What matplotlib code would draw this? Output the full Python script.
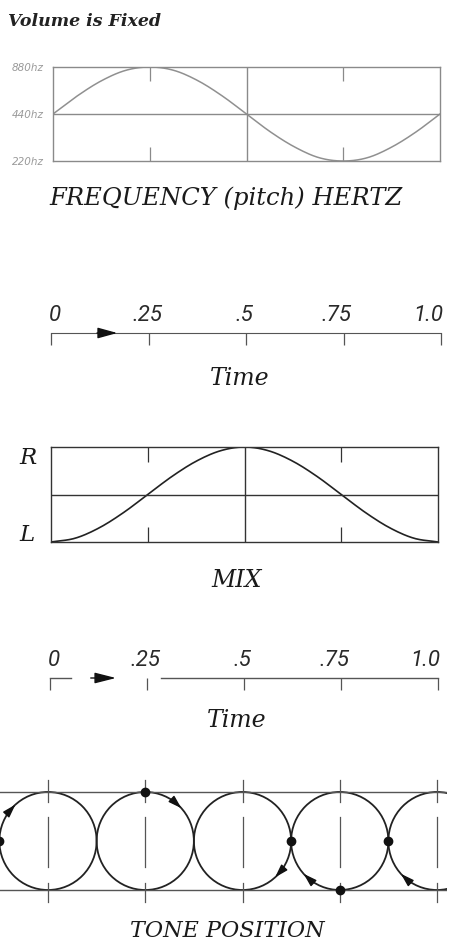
import numpy as np
import matplotlib
matplotlib.use("Agg")
import matplotlib.pyplot as plt
from matplotlib.patches import Ellipse

# values, one sample every 1/16 of the cycle
time_s = [0, .0625, .125, .1875, .25, .3125, .375, .4375, .5,
          .5625, .625, .6875, .75, .8125, .875, .9375, 1.0]
freq_hz = [440, 574, 718, 837, 880, 837, 718, 574, 440,
           337, 270, 231, 220, 231, 270, 337, 440]
mix_lr = [0, .04, .15, .31, .5, .69, .85, .96, 1.0,
          .96, .85, .69, .5, .31, .15, .04, 0]

freq_ticks = [220, 440, 880]
freq_labels = ["220hz", "440hz", "880hz"]
time_ticks = [0, .25, .5, .75, 1.0]
time_labels = ["0", ".25", ".5", ".75", "1.0"]
mix_labels = ["L", "R"]

# tone position: one circle per time tick, dot and arrow angle (deg) on each
circle_t = [0, .25, .5, .75, 1.0]
dot_angle = [180, 90, 0, 270, 180]
arrow_angle = [135, 45, -45, -135, -135]

W, H = 450, 943
SERIF = dict(family="DejaVu Serif", style="italic")
DIGITS = dict(family="Roboto", style="italic")


def smooth(x, y, n=12):
    # catmull-rom through the read samples, just to draw a smooth line
    x = np.asarray(x, float)
    y = np.asarray(y, float)
    xp = np.r_[2 * x[0] - x[1], x, 2 * x[-1] - x[-2]]
    yp = np.r_[2 * y[0] - y[1], y, 2 * y[-1] - y[-2]]
    s = np.linspace(0, 1, n, endpoint=False)
    xs, ys = [], []
    for i in range(1, len(xp) - 2):
        for arr, out in ((xp, xs), (yp, ys)):
            p0, p1, p2, p3 = arr[i - 1:i + 3]
            out.append(0.5 * (2 * p1 + (p2 - p0) * s
                              + (2 * p0 - 5 * p1 + 4 * p2 - p3) * s ** 2
                              + (3 * p1 - p0 - 3 * p2 + p3) * s ** 3))
    return np.r_[np.concatenate(xs), x[-1]], np.r_[np.concatenate(ys), y[-1]]


def box(x0, y0, x1, y1):
    return fig.add_axes([x0 / W, 1 - y1 / H, (x1 - x0) / W, (y1 - y0) / H])


def time_axis(ax, color):
    ax.set_xlim(0, 1)
    ax.set_ylim(0, 1)
    for side in ["left", "right", "bottom"]:
        ax.spines[side].set_visible(False)
    ax.spines["top"].set_color(color)
    ax.set_yticks([])
    ax.set_xticks(time_ticks)
    ax.tick_params(axis="x", top=True, bottom=False, direction="in",
                   length=8.5, width=0.9, color=color,
                   labelbottom=False, labeltop=False)
    ax.patch.set_visible(False)
    for t, lab, dx in zip(time_ticks, time_labels, [3, -1, -1.5, -5, -9.5]):
        ax.annotate(lab, xy=(t, 1), xycoords=("data", "axes fraction"),
                    xytext=(dx, 12.5), textcoords="offset points",
                    ha="center", va="center", fontsize=16, color="#2a2a2a",
                    **DIGITS)


fig = plt.figure(figsize=(W / 100, H / 100), dpi=100)

fig.text(8 / W, 1 - 22 / H, "Volume is Fixed", ha="left", va="center",
         fontsize=12.5, weight="bold", color="#222", **SERIF)

# frequency
ax = box(53, 67, 440, 161)
gray = "#8a8a8a"
ax.set_yscale("log", base=2)
xs, ys = smooth(time_s, np.log2(freq_hz))
ax.plot(xs, 2 ** ys, color="#909090", lw=1.1)
ax.set_xlim(0, 1)
ax.set_ylim(220, 880)
ax.axhline(440, color=gray, lw=1)
ax.axvline(0.5, color=gray, lw=1)
ax.set_xticks([.25, .75])
ax.tick_params(axis="x", top=True, bottom=True, direction="in", length=10,
               width=0.9, color=gray, labelbottom=False)
ax.yaxis.set_minor_locator(matplotlib.ticker.NullLocator())
ax.set_yticks(freq_ticks, freq_labels)
ax.tick_params(axis="y", length=0, pad=6.5, labelsize=7.5, labelcolor="#999")
for lab in ax.get_yticklabels():
    lab.set_fontstyle("italic")
for sp in ax.spines.values():
    sp.set_color(gray)
    sp.set_linewidth(1)
fig.text(226 / W, 1 - 205 / H, "FREQUENCY (pitch) HERTZ", ha="center",
         va="baseline", fontsize=17.5, color="#1a1a1a", **SERIF)

# first time line
ax = box(51, 333, 441, 348)
time_axis(ax, "#555")
ax.annotate("", xy=(0.17, 1), xytext=(0.118, 1),
            xycoords=("data", "axes fraction"),
            arrowprops=dict(arrowstyle="-|>,head_length=1.2,head_width=0.33",
                            color="#111", lw=1, shrinkA=0, shrinkB=0))
fig.text(240 / W, 1 - 385 / H, "Time", ha="center", va="baseline",
         fontsize=17, color="#1a1a1a", **SERIF)

# mix
ax = box(51, 447, 438, 542)
dark = "#333"
xs, ys = smooth(time_s, mix_lr)
ax.plot(xs, ys, color="#222", lw=1.2)
ax.set_xlim(0, 1)
ax.set_ylim(0, 1)
ax.axhline(0.5, color=dark, lw=1)
ax.axvline(0.5, color=dark, lw=1)
ax.set_xticks([.25, .75])
ax.tick_params(axis="x", top=True, bottom=True, direction="in", length=10.5,
               width=0.9, color=dark, labelbottom=False)
ax.set_yticks([])
for sp in ax.spines.values():
    sp.set_color(dark)
    sp.set_linewidth(1)
for y, lab, va, dy in zip([0, 1], mix_labels, ["baseline", "top"], [1, 0]):
    ax.annotate(lab, xy=(0, y), xycoords=("axes fraction", "data"),
                xytext=(-22.5, dy), textcoords="offset points", ha="left",
                va=va, fontsize=16.5, color="#1a1a1a", **SERIF)
fig.text(237 / W, 1 - 587 / H, "MIX", ha="center", va="baseline",
         fontsize=17, color="#1a1a1a", **SERIF)

# second time line, broken like the print
ax = box(50, 678, 438, 690)
time_axis(ax, "#555")
ax.spines["top"].set_visible(False)
for a, b in [(0, .055), (.285, 1.0)]:
    ax.plot([a, b], [1, 1], color="#555", lw=1, clip_on=False)
ax.annotate("", xy=(0.17, 1), xytext=(0.105, 1),
            xycoords=("data", "axes fraction"),
            arrowprops=dict(arrowstyle="-|>,head_length=1.3,head_width=0.33",
                            color="#111", lw=1, shrinkA=0, shrinkB=0))
fig.text(237 / W, 1 - 727 / H, "Time", ha="center", va="baseline",
         fontsize=17, color="#1a1a1a", **SERIF)

# tone position
ax = box(0, 770, 447, 912)
ax.set_xlim(-48 / 389, 399 / 389)
ax.set_ylim(-71 / 49, 71 / 49)
ax.axis("off")
ax.axhline(1, color="#555", lw=1)
ax.axhline(-1, color="#555", lw=1)
rx = 0.125
for t, da, aa in zip(circle_t, dot_angle, arrow_angle):
    ax.add_patch(Ellipse((t, 0), 2 * rx, 2, fill=False, color="#222", lw=1.3))
    for y0, y1 in [(0.8, 1.245), (-0.53, 0.49), (-1.245, -0.86)]:
        ax.plot([t, t], [y0, y1], color="#555", lw=0.9)
    a = np.radians(da)
    ax.plot(t + rx * np.cos(a), np.sin(a), "o", ms=6, color="#111")
    a0, a1 = np.radians(aa + 7), np.radians(aa - 3)
    ax.annotate("", xy=(t + rx * np.cos(a1), np.sin(a1)),
                xytext=(t + rx * np.cos(a0), np.sin(a0)),
                arrowprops=dict(arrowstyle="-|>,head_length=0.8,head_width=0.25",
                                color="#111", lw=1, shrinkA=0, shrinkB=0))
fig.text(227 / W, 1 - 937 / H, "TONE POSITION", ha="center", va="baseline",
         fontsize=16, color="#1a1a1a", **SERIF)

fig.savefig("out.png", dpi=100)
